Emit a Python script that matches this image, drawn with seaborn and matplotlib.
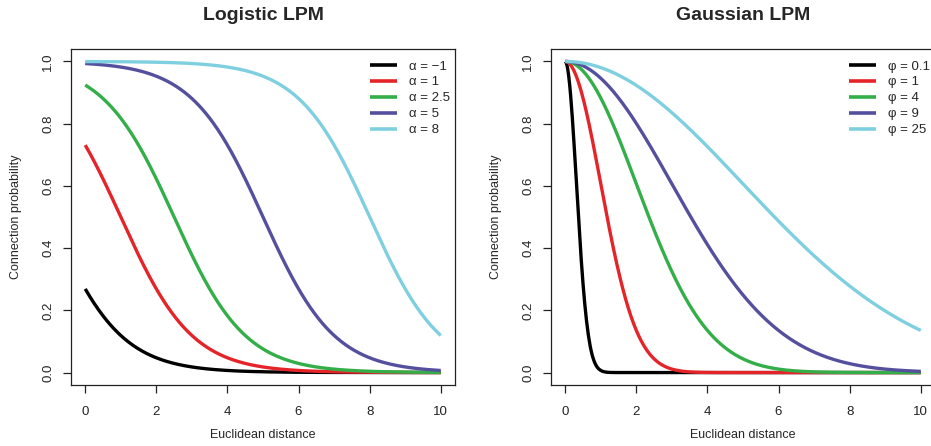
import numpy as np
import pandas as pd
import seaborn as sns
import matplotlib
matplotlib.use("Agg")
import matplotlib.pyplot as plt

# ---- data ----
alphas = [-1, 1, 2.5, 5, 8]
alpha_labels = ["α = −1", "α = 1", "α = 2.5", "α = 5", "α = 8"]
phis = [0.1, 1, 4, 9, 25]
phi_labels = ["φ = 0.1", "φ = 1", "φ = 4", "φ = 9", "φ = 25"]
colors = ["#000000", "#E5242A", "#34AE48", "#55509E", "#7ECFDF"]
distance = np.linspace(0, 10, 401)
x_ticks = [0, 2, 4, 6, 8, 10]
y_ticks = [0.0, 0.2, 0.4, 0.6, 0.8, 1.0]
y_ticklabels = ["0.0", "0.2", "0.4", "0.6", "0.8", "1.0"]

rows = []
for a, lab in zip(alphas, alpha_labels):
    p = 1.0 / (1.0 + np.exp(-(a - distance)))
    rows.append(pd.DataFrame({"d": distance, "p": p, "lab": lab}))
df_log = pd.concat(rows, ignore_index=True)

rows = []
for ph, lab in zip(phis, phi_labels):
    p = np.exp(-distance ** 2 / (2 * ph))
    rows.append(pd.DataFrame({"d": distance, "p": p, "lab": lab}))
df_gau = pd.concat(rows, ignore_index=True)

sns.set_theme(style="ticks")
plt.rcParams["font.family"] = ["Liberation Sans", "DejaVu Sans"]

W, H = 931, 446
fig = plt.figure(figsize=(W / 100, H / 100), dpi=100)

def px_ax(left, top, right, bottom):
    return fig.add_axes([left / W, 1 - bottom / H, (right - left) / W, (bottom - top) / H])

ax1 = px_ax(71, 49, 455, 385)
ax2 = px_ax(551, 49, 935, 385)

panels = [
    (ax1, df_log, alpha_labels, "Logistic LPM"),
    (ax2, df_gau, phi_labels, "Gaussian LPM"),
]

for ax, df, labels, title in panels:
    pal = dict(zip(labels, colors))
    sns.lineplot(data=df, x="d", y="p", hue="lab", hue_order=labels,
                 palette=pal, linewidth=2.4, ax=ax, legend=True,
                 solid_capstyle="butt")
    ax.set_xlim(-0.4, 10.4)
    ax.set_ylim(-0.04, 1.04)
    ax.set_xticks(x_ticks)
    ax.set_xticklabels([str(t) for t in x_ticks])
    ax.set_yticks(y_ticks)
    ax.set_yticklabels(y_ticklabels, rotation=90, va="center")
    for s in ax.spines.values():
        s.set_visible(True)
        s.set_linewidth(0.9)
        s.set_color("#222222")
    ax.tick_params(axis="both", direction="out", length=6, width=0.9,
                   labelsize=9.5, colors="#222222")
    ax.tick_params(axis="x", pad=9)
    ax.tick_params(axis="y", pad=6)
    ax.set_xlabel("Euclidean distance", fontsize=9, labelpad=8)
    ax.set_ylabel("Connection probability", fontsize=9, labelpad=15)
    pos = ax.get_position()
    fig.text((pos.x0 + pos.x1) / 2, 1 - 16 / H, title, ha="center",
             va="center", fontsize=14, fontweight="bold")
    leg = ax.legend(loc="upper right", bbox_to_anchor=(1.0, 1.0 - 6 / 336),
                    frameon=False, fontsize=9.5,
                    handlelength=2.0, handletextpad=0.9, labelspacing=0.28,
                    borderaxespad=0.0)
    for h in leg.get_lines():
        h.set_linewidth(2.6)

fig.savefig("out.png", dpi=100)
